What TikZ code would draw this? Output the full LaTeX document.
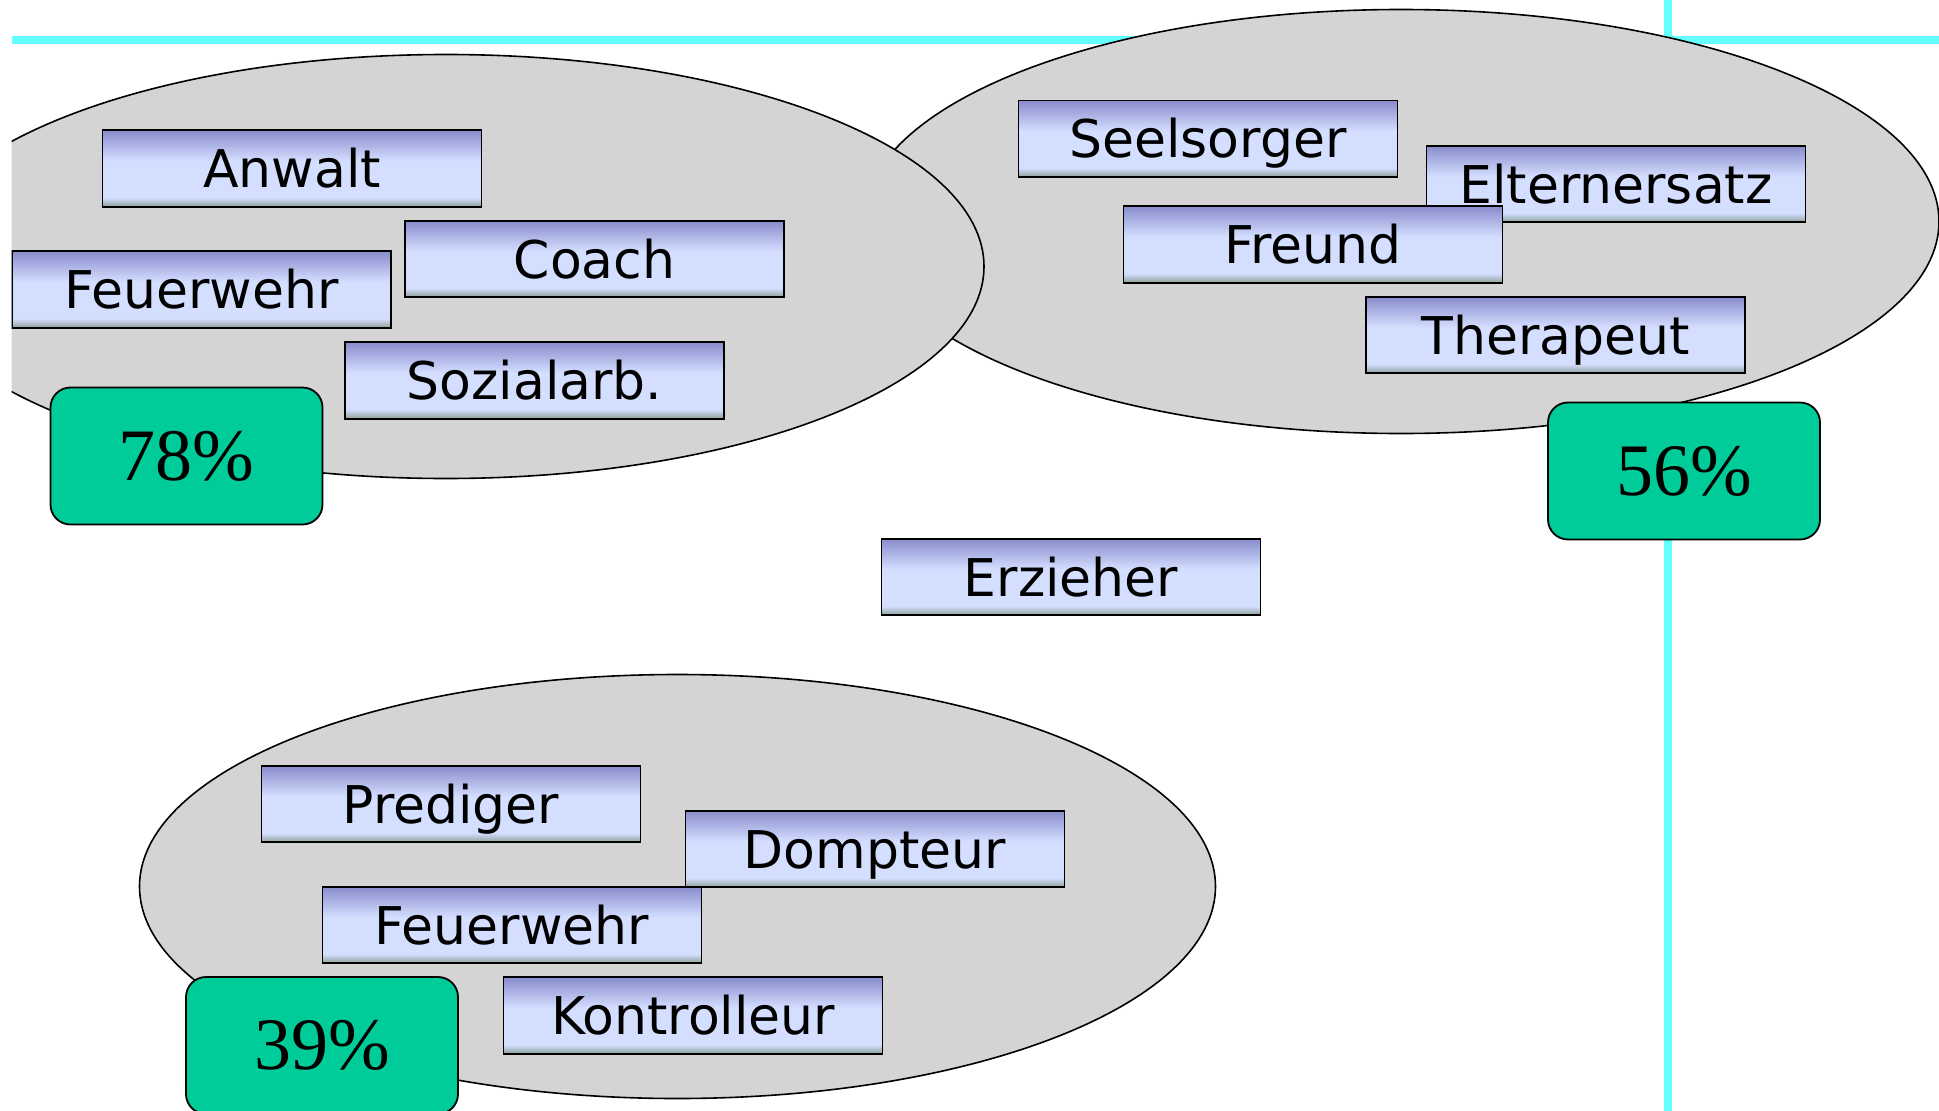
\documentclass[tikz,border=0pt]{standalone}
\usepackage{fontspec}
\setmainfont{DejaVu Sans}
\newfontfamily\pctfont{Liberation Serif}
\usetikzlibrary{shapes.geometric}
\definecolor{cyanline}{RGB}{102,255,255}
\definecolor{blobgray}{RGB}{212,212,212}
\definecolor{pctgreen}{RGB}{0,204,153}
\definecolor{boxtop}{RGB}{136,140,204}
\definecolor{boxlight}{RGB}{212,222,255}
\definecolor{boxbot}{RGB}{140,160,150}
\pgfdeclareverticalshading{roleshade}{100bp}{color(0bp)=(boxbot); color(25bp)=(boxbot); color(31bp)=(boxlight); color(55bp)=(boxlight); color(75bp)=(boxtop); color(100bp)=(boxtop)}
\tikzset{
  blob/.style={ellipse, draw=black, line width=1.6pt, fill=blobgray, minimum width=1076pt, minimum height=424pt, inner sep=0pt},
  rolebox/.style={rectangle, draw=black, line width=1.8pt, shading=roleshade, minimum width=379pt, minimum height=76.5pt, inner sep=0pt, text height=38pt, text depth=-3pt, font=\fontsize{52}{60}\selectfont},
  pctbox/.style={rectangle, rounded corners=20pt, draw=black, line width=1.8pt, fill=pctgreen, minimum width=272pt, minimum height=137pt, inner sep=0pt, font=\pctfont\fontsize{74}{80}\selectfont},
  guide/.style={draw=cyanline, line width=8pt}
}
\begin{document}
\begin{tikzpicture}[x=1pt, y=-1pt]
\useasboundingbox (0,0) rectangle (1939,1111);
\begin{scope}
\clip (11.5,0) rectangle (1939,1111);
\coordinate (hl) at (11.5,40);
\coordinate (hr) at (1939,40);
\coordinate (vt) at (1668,0);
\coordinate (vb) at (1668,1111);
\draw[guide] (hl) -- (hr);
\draw[guide] (vt) -- (vb);
% ellipses
\node[blob] (E2) at (1401,221.5) {};
\node[blob] (E1) at (446,266.5) {};
\node[blob] (E3) at (677.5,886.5) {};
% left group
\node[rolebox] (anwalt) at (292,168.5) {Anwalt};
\node[rolebox] (coach) at (594.5,259) {Coach};
\node[rolebox] (feuer1) at (201.5,289.5) {Feuerwehr};
\node[rolebox] (sozial) at (534.5,380.5) {Sozialarb.};
\node[pctbox] (p78) at (186.5,456) {78\%};
% right group
\node[rolebox] (seel) at (1208,138.8) {Seelsorger};
\node[rolebox] (eltern) at (1616,184) {Elternersatz};
\node[rolebox] (freund) at (1313,244.5) {Freund};
\node[rolebox] (thera) at (1555.5,335) {Therapeut};
\node[pctbox] (p56) at (1684,471) {56\%};
% middle
\node[rolebox] (erz) at (1071,577) {Erzieher};
% bottom group
\node[rolebox] (pred) at (451,804) {Prediger};
\node[rolebox] (domp) at (875,849) {Dompteur};
\node[rolebox] (feuer2) at (512,925) {Feuerwehr};
\node[rolebox] (kontr) at (693,1015.5) {Kontrolleur};
\node[pctbox] (p39) at (322,1045.5) {39\%};
\end{scope}
\end{tikzpicture}
\end{document}
